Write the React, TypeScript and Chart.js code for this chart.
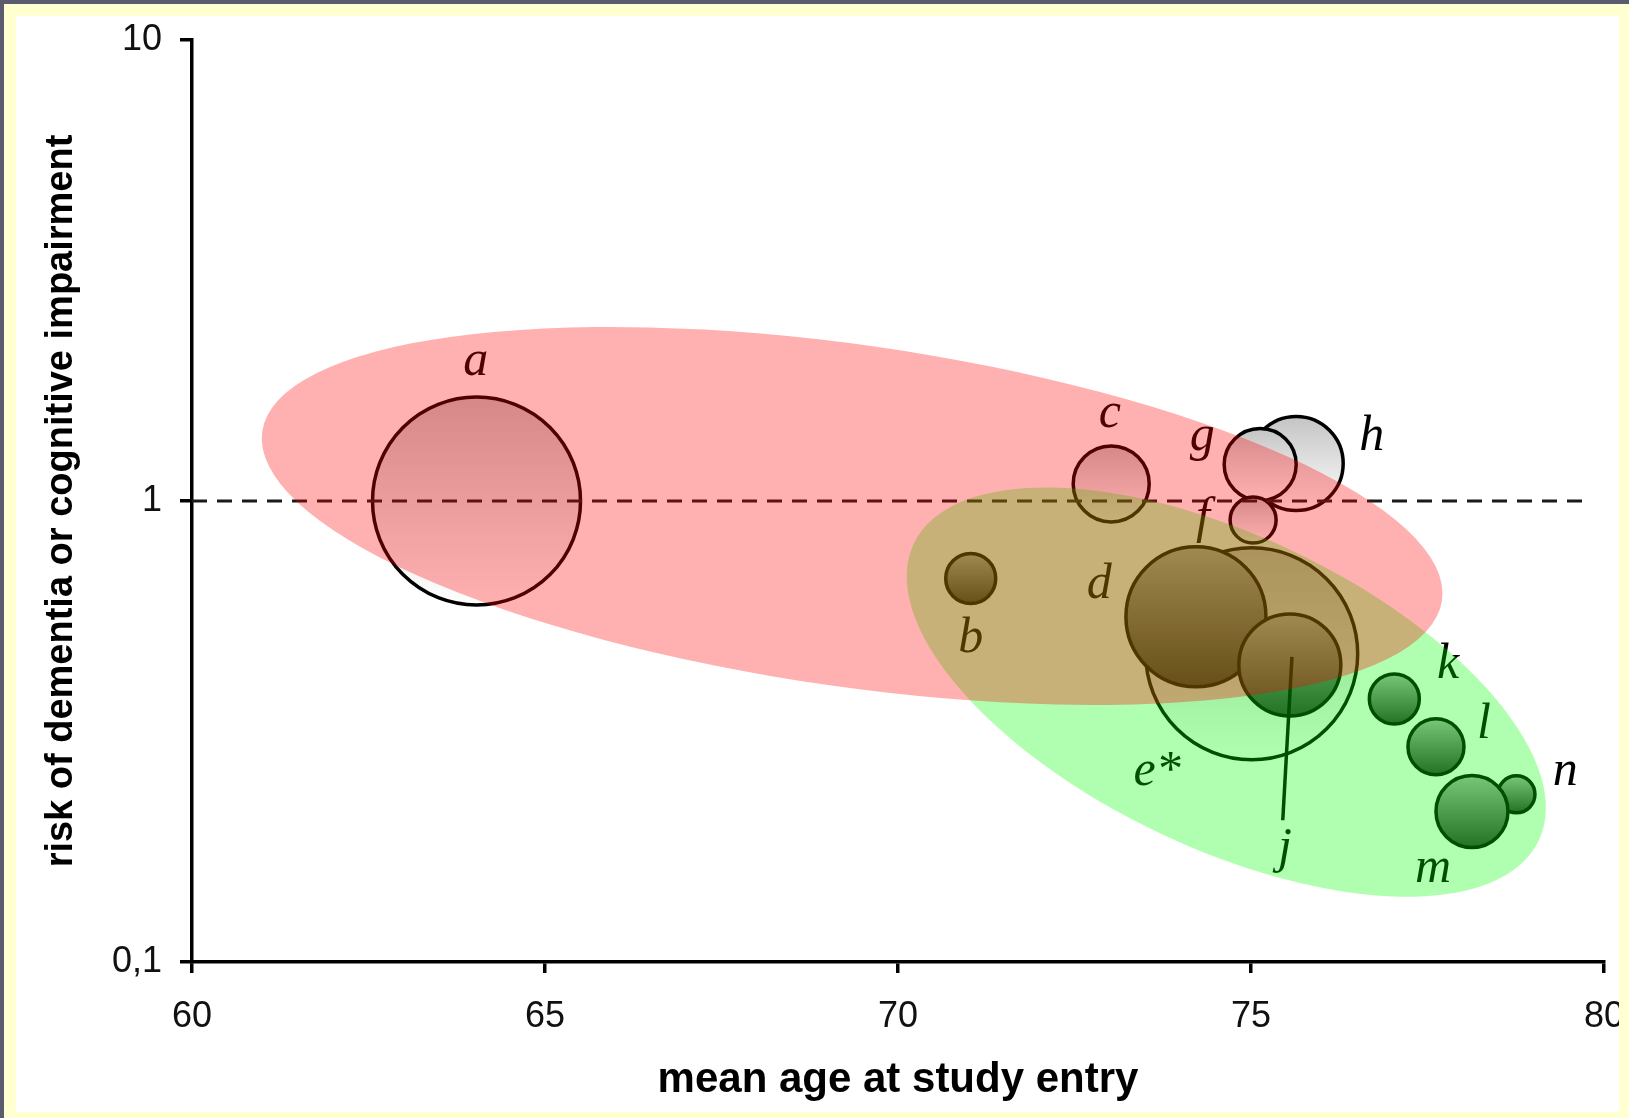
import React, { useEffect, useRef } from 'react';
import { Chart, registerables } from 'chart.js';

Chart.register(...registerables);

// ---- data ----
// drawing order: later items are drawn over earlier ones
const studies = ['a', 'b', 'c', 'e*', 'd', 'j', 'h', 'g', 'f', 'k', 'l', 'n', 'm'];
const meanAge = [64.03, 71.03, 73.02, 75.01, 74.22, 75.55, 75.64, 75.13, 75.03, 77.03, 77.62, 78.76, 78.13];
const riskRatio = [1.0, 0.679, 1.089, 0.466, 0.561, 0.441, 1.206, 1.2, 0.909, 0.372, 0.293, 0.231, 0.212];
const bubbleRadius = [104, 25, 38, 106, 70, 51, 47, 36, 23, 25, 28, 18.5, 36];
const bubbleShade = ['light', 'dark', 'light', 'light', 'dark', 'dark', 'light', 'light', 'light', 'dark', 'dark', 'dark', 'dark'];

// label anchor (baseline centre) in data units
const labelAge = [64.02, 71.03, 73.0, 73.67, 72.85, 75.48, 76.71, 74.31, 74.32, 77.79, 78.3, 79.45, 77.58];
const labelRisk = [1.877, 0.47, 1.447, 0.242, 0.616, 0.165, 1.29, 1.29, 0.857, 0.413, 0.306, 0.242, 0.149];

// whisker of study j
const whiskerAge = [75.58, 75.45];
const whiskerRisk = [0.459, 0.203];

// reference line at risk = 1
const refAge = [60, 79.7];
const refRisk = [1, 1];

const xTicks = [60, 65, 70, 75, 80];
const yTicks = [0.1, 1, 10];
const yTickLabels = ['0,1', '1', '10'];

// shaded regions (green drawn first, pink over it)
const regionCentreAge = [74.65, 69.35];
const regionCentreRisk = [0.385, 0.928];
const regionSemiMajorYears = [4.9, 8.44];
const regionSemiMinorYears = [2.21, 2.42];
const regionTiltDeg = [25.4, 8.15];
const regionColour = ['rgba(0,255,0,0.31)', 'rgba(255,0,0,0.31)'];

const W = 1629;
const H = 1118;

const overlayPlugin = {
  id: 'overlay',
  beforeDraw(chart: any) {
    const ctx = chart.ctx;
    ctx.save();
    ctx.fillStyle = '#ffffff';
    ctx.fillRect(0, 0, chart.width, chart.height);
    ctx.restore();
  },
  afterDatasetsDraw(chart: any) {
    const { ctx } = chart;
    const xs = chart.scales.x;
    const ys = chart.scales.y;
    ctx.save();
    ctx.font = 'italic 50px "Liberation Serif"';
    ctx.fillStyle = '#000';
    ctx.textAlign = 'center';
    ctx.textBaseline = 'alphabetic';
    studies.forEach((s, i) => {
      ctx.fillText(s, xs.getPixelForValue(labelAge[i]), ys.getPixelForValue(labelRisk[i]));
    });
    const ppu = Math.abs(xs.getPixelForValue(61) - xs.getPixelForValue(60));
    for (let i = 0; i < regionCentreAge.length; i++) {
      const cx = xs.getPixelForValue(regionCentreAge[i]);
      const cy = ys.getPixelForValue(regionCentreRisk[i]);
      ctx.beginPath();
      ctx.ellipse(cx, cy, regionSemiMajorYears[i] * ppu, regionSemiMinorYears[i] * ppu, (regionTiltDeg[i] * Math.PI) / 180, 0, Math.PI * 2);
      ctx.fillStyle = regionColour[i];
      ctx.fill();
    }
    ctx.restore();
  },
  afterDraw(chart: any) {
    const ctx = chart.ctx;
    ctx.save();
    ctx.fillStyle = '#ffffd2';
    ctx.fillRect(0, 0, W, 16);
    ctx.fillRect(0, 0, 16, H);
    ctx.fillRect(W - 10, 0, 10, H);
    ctx.fillRect(0, H - 6, W, 6);
    ctx.fillStyle = '#5b5b6f';
    ctx.fillRect(0, 0, W, 4);
    ctx.fillRect(0, 0, 4, H);
    ctx.restore();
  },
};

export default function App() {
  const ref = useRef<HTMLCanvasElement | null>(null);

  useEffect(() => {
    document.body.style.margin = '0';
    if (!ref.current) return;

    const shadeGradient = (c: any) => {
      const dark = bubbleShade[c.dataIndex] === 'dark';
      const fallback = dark ? '#7a7a7a' : '#e0e0e0';
      if (c.type !== 'data') return fallback;
      const chart = c.chart;
      const ys = chart.scales && chart.scales.y;
      const raw = c.raw;
      if (!ys || !raw) return fallback;
      const cy = ys.getPixelForValue(raw.y);
      if (!Number.isFinite(cy) || !Number.isFinite(raw.r)) return fallback;
      const g = chart.ctx.createLinearGradient(0, cy - raw.r, 0, cy + raw.r);
      if (dark) {
        g.addColorStop(0, '#aeaeae');
        g.addColorStop(1, '#343434');
      } else {
        g.addColorStop(0, '#c4c4c4');
        g.addColorStop(1, '#ffffff');
      }
      return g;
    };

    const tickFont = { family: '"Liberation Sans", Arial, sans-serif', size: 36 };

    const chart = new Chart(ref.current, {
      type: 'bubble',
      data: {
        datasets: [
          {
            type: 'line',
            label: 'reference',
            data: refAge.map((a, i) => ({ x: a, y: refRisk[i] })),
            borderColor: '#1a1a1a',
            borderWidth: 3,
            borderDash: [15, 10],
            pointRadius: 0,
            fill: false,
            order: 1,
          } as any,
          {
            type: 'line',
            label: 'j whisker',
            data: whiskerAge.map((a, i) => ({ x: a, y: whiskerRisk[i] })),
            borderColor: '#000',
            borderWidth: 3.5,
            pointRadius: 0,
            fill: false,
            order: 2,
          } as any,
          {
            type: 'bubble',
            label: 'studies',
            data: studies.map((s, i) => ({ x: meanAge[i], y: riskRatio[i], r: bubbleRadius[i] })),
            backgroundColor: shadeGradient,
            borderColor: '#000',
            borderWidth: 3.5,
            hoverRadius: 0,
            order: 3,
          } as any,
        ],
      },
      options: {
        animation: false,
        responsive: false,
        devicePixelRatio: 1,
        events: [],
        layout: { autoPadding: false, padding: { left: 0, right: 25, top: 40, bottom: 0 } },
        plugins: {
          legend: { display: false },
          tooltip: { enabled: false },
        },
        scales: {
          x: {
            type: 'linear',
            min: 60,
            max: 80,
            afterBuildTicks: (s: any) => {
              s.ticks = xTicks.map((v) => ({ value: v }));
            },
            afterFit: (s: any) => {
              s.height = 156;
              s.paddingLeft = 0;
              s.paddingRight = 0;
            },
            ticks: {
              font: tickFont,
              color: '#111',
              padding: 22,
              maxRotation: 0,
              autoSkip: false,
              callback: (v: any) => String(v),
            },
            grid: {
              display: true,
              drawOnChartArea: false,
              drawTicks: true,
              tickLength: 11,
              color: '#000',
              lineWidth: 3.5,
            },
            border: { display: true, color: '#000', width: 3.5 },
            title: {
              display: true,
              text: 'mean age at study entry',
              font: { family: '"Liberation Sans", Arial, sans-serif', size: 42, weight: 'bold' },
              color: '#000',
              padding: { top: 0, bottom: 12 },
            },
          },
          y: {
            type: 'logarithmic',
            min: 0.1,
            max: 10,
            afterBuildTicks: (s: any) => {
              s.ticks = yTicks.map((v) => ({ value: v }));
            },
            afterFit: (s: any) => {
              s.width = 192;
              s.paddingTop = 0;
              s.paddingBottom = 0;
            },
            ticks: {
              font: tickFont,
              color: '#111',
              padding: 18,
              autoSkip: false,
              callback: (_v: any, i: number) => yTickLabels[i],
            },
            grid: {
              display: true,
              drawOnChartArea: false,
              drawTicks: true,
              tickLength: 12,
              color: '#000',
              lineWidth: 3.5,
            },
            border: { display: true, color: '#000', width: 3.5 },
            title: {
              display: true,
              text: 'risk of dementia or cognitive impairment',
              font: { family: '"Liberation Sans", Arial, sans-serif', size: 38, weight: 'bold' },
              color: '#000',
              padding: { top: 39, bottom: 0 },
            },
          },
        },
      } as any,
      plugins: [overlayPlugin],
    });

    return () => chart.destroy();
  }, []);

  return (
    <div style={{ width: W, height: H }}>
      <canvas ref={ref} width={W} height={H} style={{ display: 'block', width: W, height: H }} />
    </div>
  );
}
